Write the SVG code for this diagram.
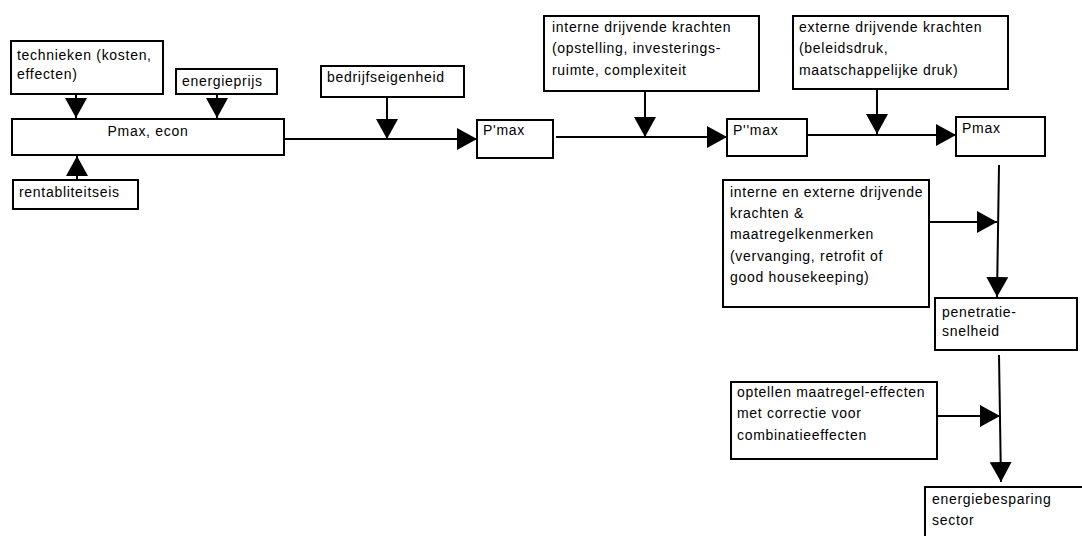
<svg xmlns="http://www.w3.org/2000/svg" width="1082" height="536" viewBox="0 0 1082 536">
<style>
.box{fill:#fff;stroke:#000;stroke-width:2}
.t{font-family:"Liberation Sans",Arial,sans-serif;font-size:14px;letter-spacing:0.7px;fill:#000}
.c{fill:none;stroke:#000;stroke-width:2}
</style>
<defs>
<marker id="ah" viewBox="0 0 20 22" refX="20" refY="11" markerWidth="20" markerHeight="22" markerUnits="userSpaceOnUse" orient="auto">
<path d="M0,0 L20,11 L0,22 z" fill="#000"/>
</marker>
</defs>
<rect width="1082" height="536" fill="#fff"/>
<g id="connectors">
<line class="c" x1="76" y1="94" x2="76" y2="118" marker-end="url(#ah)"/>
<line class="c" x1="217" y1="94" x2="217" y2="118" marker-end="url(#ah)"/>
<line class="c" x1="77" y1="180" x2="77" y2="156" marker-end="url(#ah)"/>
<line class="c" x1="284" y1="139" x2="477" y2="139" marker-end="url(#ah)"/>
<line class="c" x1="387" y1="97" x2="387" y2="139" marker-end="url(#ah)"/>
<line class="c" x1="556" y1="137" x2="727" y2="137" marker-end="url(#ah)"/>
<line class="c" x1="645" y1="91" x2="645" y2="137" marker-end="url(#ah)"/>
<line class="c" x1="808" y1="135" x2="956" y2="135" marker-end="url(#ah)"/>
<line class="c" x1="877" y1="89" x2="877" y2="134" marker-end="url(#ah)"/>
<line class="c" x1="999" y1="165" x2="997" y2="297" marker-end="url(#ah)"/>
<line class="c" x1="929" y1="222" x2="997" y2="222" marker-end="url(#ah)"/>
<line class="c" x1="999" y1="355" x2="1001" y2="482" marker-end="url(#ah)"/>
<line class="c" x1="937" y1="416" x2="1000" y2="416" marker-end="url(#ah)"/>
</g>
<g id="technieken">
<rect class="box" x="11" y="41" width="152" height="53"/>
<text class="t" x="17" y="60">technieken (kosten,</text>
<text class="t" x="17" y="79">effecten)</text>
</g>
<g id="energieprijs">
<rect class="box" x="176" y="69" width="101" height="25"/>
<text class="t" x="182" y="86">energieprijs</text>
</g>
<g id="pmax-econ">
<rect class="box" x="12" y="119" width="272" height="36"/>
<text class="t" x="148" y="136" text-anchor="middle">Pmax, econ</text>
</g>
<g id="rentabliteitseis">
<rect class="box" x="13" y="180" width="125" height="29"/>
<text class="t" x="19" y="197">rentabliteitseis</text>
</g>
<g id="bedrijfseigenheid">
<rect class="box" x="321" y="66" width="143" height="31"/>
<text class="t" x="327" y="82">bedrijfseigenheid</text>
</g>
<g id="p1max">
<rect class="box" x="477" y="120" width="76" height="38"/>
<text class="t" x="483" y="135">P'max</text>
</g>
<g id="interne">
<rect class="box" x="544" y="16" width="215" height="75"/>
<text class="t" x="552" y="32">interne drijvende krachten</text>
<text class="t" x="552" y="53">(opstelling, investerings-</text>
<text class="t" x="552" y="75">ruimte, complexiteit</text>
</g>
<g id="p2max">
<rect class="box" x="727" y="119" width="80" height="37"/>
<text class="t" x="733" y="135">P''max</text>
</g>
<g id="externe">
<rect class="box" x="793" y="16" width="215" height="73"/>
<text class="t" x="799" y="32">externe drijvende krachten</text>
<text class="t" x="799" y="53">(beleidsdruk,</text>
<text class="t" x="799" y="75">maatschappelijke druk)</text>
</g>
<g id="pmax">
<rect class="box" x="956" y="117" width="89" height="39"/>
<text class="t" x="962" y="133">Pmax</text>
</g>
<g id="interne-externe">
<rect class="box" x="723" y="180" width="206" height="127"/>
<text class="t" x="730" y="197">interne en externe drijvende</text>
<text class="t" x="730" y="218">krachten &amp;</text>
<text class="t" x="730" y="239">maatregelkenmerken</text>
<text class="t" x="730" y="261">(vervanging, retrofit of</text>
<text class="t" x="730" y="282">good housekeeping)</text>
</g>
<g id="penetratie">
<rect class="box" x="935" y="298" width="142" height="52"/>
<text class="t" x="942" y="317">penetratie-</text>
<text class="t" x="942" y="336">snelheid</text>
</g>
<g id="optellen">
<rect class="box" x="731" y="382" width="206" height="77"/>
<text class="t" x="737" y="397">optellen maatregel-effecten</text>
<text class="t" x="737" y="418">met correctie voor</text>
<text class="t" x="737" y="440">combinatieeffecten</text>
</g>
<g id="energiebesparing">
<rect class="box" x="925" y="487" width="160" height="60"/>
<text class="t" x="932" y="504">energiebesparing</text>
<text class="t" x="932" y="525">sector</text>
</g>
</svg>
